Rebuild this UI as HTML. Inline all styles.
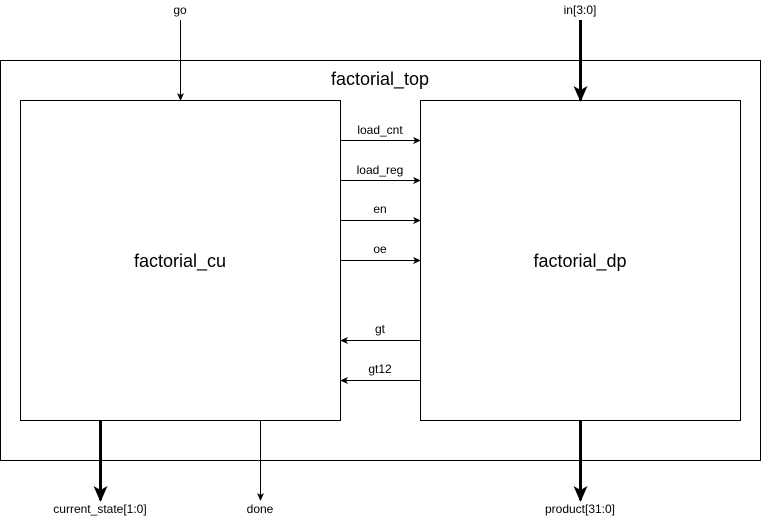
<!DOCTYPE html>
<html><head><meta charset="utf-8"><style>
html,body{margin:0;padding:0;background:#fff;}
svg{display:block;font-family:"Liberation Sans",Arial,sans-serif;}
</style></head><body>
<svg width="761" height="521" viewBox="0 0 761 521">
<defs>
<marker id="a" markerWidth="8" markerHeight="8" refX="7" refY="4" orient="auto" markerUnits="userSpaceOnUse"><path d="M0,0.5 L8,4 L0,7.5 L2,4 Z" fill="#000"/></marker>
<marker id="b" markerWidth="16" markerHeight="16" refX="14" refY="8" orient="auto" markerUnits="userSpaceOnUse"><path d="M0,1 L16,8 L0,15 L4,8 Z" fill="#000"/></marker>
</defs>
<rect x="0.5" y="60.5" width="760" height="400" fill="#fff" stroke="#000"/>
<text x="380" y="85" font-size="18" text-anchor="middle">factorial_top</text>
<rect x="20.5" y="100.5" width="320" height="320" fill="#fff" stroke="#000"/>
<text x="180" y="267" font-size="18" text-anchor="middle">factorial_cu</text>
<rect x="420.5" y="100.5" width="320" height="320" fill="#fff" stroke="#000"/>
<text x="580" y="267" font-size="18" text-anchor="middle">factorial_dp</text>
<g stroke="#000" fill="none">
<line x1="340" y1="140.5" x2="420" y2="140.5" marker-end="url(#a)"/>
<line x1="340" y1="180.5" x2="420" y2="180.5" marker-end="url(#a)"/>
<line x1="340" y1="220.5" x2="420" y2="220.5" marker-end="url(#a)"/>
<line x1="340" y1="260.5" x2="420" y2="260.5" marker-end="url(#a)"/>
<line x1="420" y1="340.5" x2="341" y2="340.5" marker-end="url(#a)"/>
<line x1="420" y1="380.5" x2="341" y2="380.5" marker-end="url(#a)"/>
<line x1="180.5" y1="20" x2="180.5" y2="100" marker-end="url(#a)"/>
<line x1="260.5" y1="420" x2="260.5" y2="500" marker-end="url(#a)"/>
<line x1="580.5" y1="20" x2="580.5" y2="100" stroke-width="3" marker-end="url(#b)"/>
<line x1="100.5" y1="420" x2="100.5" y2="500" stroke-width="3" marker-end="url(#b)"/>
<line x1="580.5" y1="420" x2="580.5" y2="500" stroke-width="3" marker-end="url(#b)"/>
</g>
<g font-size="12" text-anchor="middle" fill="#000">
<text x="380" y="134">load_cnt</text>
<text x="380" y="174">load_reg</text>
<text x="380" y="213">en</text>
<text x="380" y="253">oe</text>
<text x="380" y="333">gt</text>
<text x="380" y="373">gt12</text>
<text x="180" y="14">go</text>
<text x="580" y="14">in[3:0]</text>
<text x="100" y="513">current_state[1:0]</text>
<text x="260" y="513">done</text>
<text x="580" y="513">product[31:0]</text>
</g>
</svg>
</body></html>
